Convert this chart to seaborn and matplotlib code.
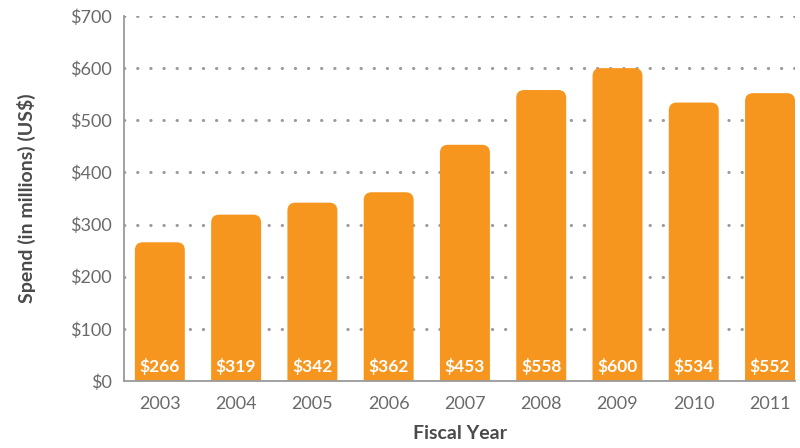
import matplotlib
matplotlib.use("Agg")
import matplotlib.pyplot as plt
import seaborn as sns
import pandas as pd
from matplotlib.patches import FancyBboxPatch

years = ["2003", "2004", "2005", "2006", "2007", "2008", "2009", "2010", "2011"]
spend = [266, 319, 342, 362, 453, 558, 600, 534, 552]
yticks = [0, 100, 200, 300, 400, 500, 600, 700]
ytick_labels = ["$0", "$100", "$200", "$300", "$400", "$500", "$600", "$700"]

sns.set_theme(style="white")
plt.rcParams["font.family"] = ["Lato", "DejaVu Sans"]

df = pd.DataFrame({"year": years, "spend": spend})

fig = plt.figure(figsize=(8, 4.48), dpi=100)
ax = fig.add_axes([0.155, 0.1496, 0.839, 0.8147])

ORANGE = "#F7961F"
sns.barplot(data=df, x="year", y="spend", color=ORANGE, width=0.655,
            saturation=1, ax=ax, zorder=3)

ax.set_xlim(-0.47, 8.33)
ax.set_ylim(0, 700)

# replace bars by rounded-top bars
px_per_x = 0.839 * 800 / (8.33 + 0.47)
px_per_y = 0.8147 * 448 / 700
aspect = px_per_x / px_per_y
rad_px = 8
bars = list(ax.patches)
for p, v in zip(bars, spend):
    x0, w, h = p.get_x(), p.get_width(), p.get_height()
    p.remove()
    ext = 30
    fb = FancyBboxPatch((x0, -ext), w, h + ext,
                        boxstyle=f"round,pad=0,rounding_size={rad_px / px_per_x}",
                        mutation_aspect=aspect, facecolor=ORANGE, edgecolor="none",
                        zorder=3, clip_on=True)
    ax.add_patch(fb)
    ax.text(x0 + w / 2, 27, f"${v}", ha="center", va="center", color="white",
            fontsize=12.5, fontweight="bold", zorder=4)

for t in yticks[1:]:
    ax.axhline(t, color="#9a9a9a", linestyle=(0, (0.1, 4.2)), linewidth=2.2,
               dash_capstyle="round", zorder=1)

ax.set_yticks(yticks)
ax.set_yticklabels(ytick_labels)
ax.tick_params(axis="both", length=0, labelsize=13, labelcolor="#6a6a6a")
ax.tick_params(axis="y", pad=9)
ax.tick_params(axis="x", pad=11)

ax.set_xlabel("Fiscal Year", fontsize=14, fontweight="bold", color="#4a4a4a", labelpad=9)
ax.set_ylabel("Spend (in millions) (US$)", fontsize=14, fontweight="bold", color="#4a4a4a", labelpad=24)

for s in ["top", "right"]:
    ax.spines[s].set_visible(False)
for s in ["left", "bottom"]:
    ax.spines[s].set_color("#9a9a9a")
    ax.spines[s].set_linewidth(1.3)
    ax.spines[s].set_zorder(5)

fig.savefig("out.png", dpi=100)
